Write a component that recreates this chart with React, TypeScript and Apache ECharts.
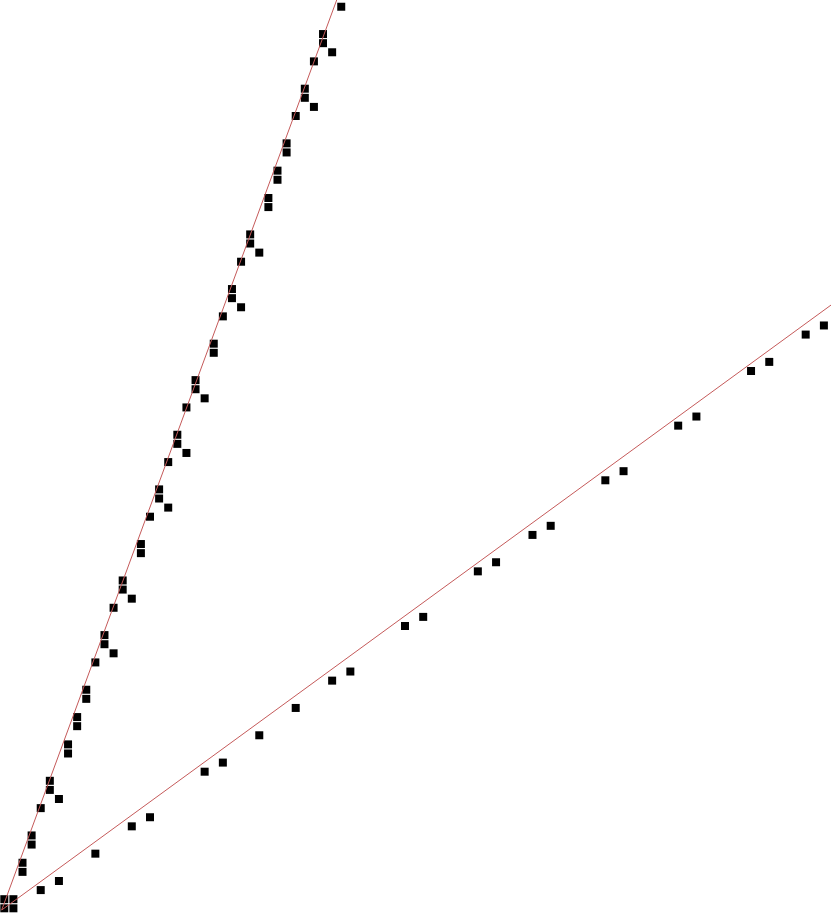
import React, { useEffect, useRef } from "react";
import * as echarts from "echarts";

// Steep cluster of points (x, y)
const steepPoints: [number, number][] = [
  [0, 0], [0, 1], [1, 0], [1, 1], [2, 4], [2, 5], [3, 7], [3, 8], [4, 11],
  [5, 13], [5, 14], [6, 12], [7, 17], [7, 18], [8, 20], [8, 21], [9, 23], [9, 24],
  [10, 27], [11, 29], [11, 30], [12, 28], [12, 33], [13, 35], [13, 36], [14, 34],
  [15, 39], [15, 40], [16, 43], [17, 45], [17, 46], [18, 44], [18, 49], [19, 51],
  [19, 52], [20, 50], [20, 55], [21, 57], [21, 58], [22, 56], [23, 61], [23, 62],
  [24, 65], [25, 67], [25, 68], [26, 66], [26, 71], [27, 73], [27, 74], [28, 72],
  [29, 77], [29, 78], [30, 80], [30, 81], [31, 83], [31, 84], [32, 87], [33, 89],
  [33, 90], [34, 88], [34, 93], [35, 95], [35, 96], [36, 94], [37, 99],
];

// Shallow cluster of points (x, y)
const shallowPoints: [number, number][] = [
  [4, 2], [6, 3], [10, 6], [14, 9], [16, 10], [22, 15], [24, 16], [28, 19],
  [32, 22], [36, 25], [38, 26], [44, 31], [46, 32], [52, 37], [54, 38], [58, 41],
  [60, 42], [66, 47], [68, 48], [74, 53], [76, 54], [82, 59], [84, 60], [88, 63],
  [90, 64],
];

// Reference lines (start, end)
const steepLine: [number, number][] = [[-0.285, -0.187], [36.5, 99.74]];
const shallowLine: [number, number][] = [[-0.285, -0.187], [90.78, 66.24]];

const xRange = [-0.472, 90.78];
const yRange = [-0.516, 99.74];

export default function App() {
  const ref = useRef<HTMLDivElement>(null);
  useEffect(() => {
    document.body.style.margin = "0";
    if (!ref.current) return;
    const chart = echarts.init(ref.current, null, { renderer: "svg" });
    chart.setOption({
      animation: false,
      grid: { left: 0, right: 0, top: 0, bottom: 0 },
      xAxis: { type: "value", min: xRange[0], max: xRange[1], show: false },
      yAxis: { type: "value", min: yRange[0], max: yRange[1], show: false },
      series: [
        {
          type: "scatter",
          data: [...steepPoints, ...shallowPoints],
          symbol: "rect",
          symbolSize: 8,
          itemStyle: { color: "#000000", opacity: 1 },
          z: 2,
        },
        {
          type: "line",
          data: steepLine,
          symbol: "none",
          lineStyle: { color: "#c55a5a", width: 1 },
          z: 3,
        },
        {
          type: "line",
          data: shallowLine,
          symbol: "none",
          lineStyle: { color: "#c55a5a", width: 1 },
          z: 3,
        },
      ],
    });
    return () => chart.dispose();
  }, []);
  return (
    <div
      ref={ref}
      style={{ position: "absolute", left: 0, top: 0, width: 831, height: 913 }}
    />
  );
}
